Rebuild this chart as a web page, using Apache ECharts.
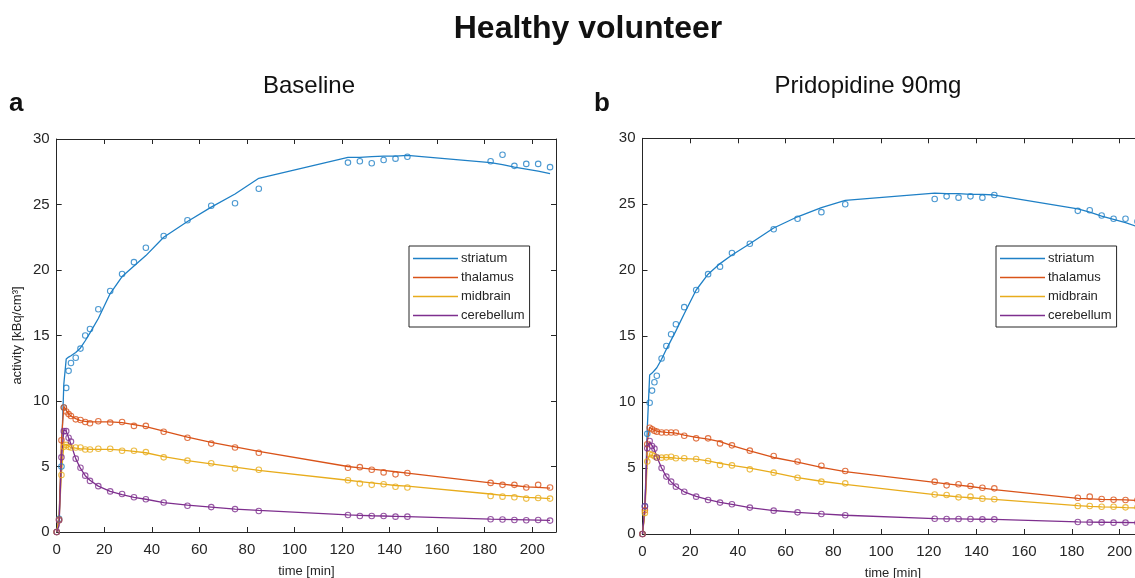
<!DOCTYPE html>
<html>
<head>
<meta charset="utf-8">
<script src="https://cdn.jsdelivr.net/npm/echarts@6/dist/echarts.min.js"></script>
<style>
html,body{margin:0;padding:0;background:#fff;}
#chart{width:1135px;height:578px;}
</style>
</head>
<body>
<div id="chart"></div>
<script>
// ---- data ----
const regions = ['striatum', 'thalamus', 'midbrain', 'cerebellum'];
const colors = ['#1f80c6', '#d95319', '#e8ac1c', '#7e2f8e'];
const times = [0, 1, 2, 3, 4, 5, 6, 8, 10, 12, 14, 17.5, 22.5, 27.5, 32.5, 37.5, 45, 55, 65, 75, 85,
  122.5, 127.5, 132.5, 137.5, 142.5, 147.5, 182.5, 187.5, 192.5, 197.5, 202.5, 207.5];
const xTicks = [0, 20, 40, 60, 80, 100, 120, 140, 160, 180, 200];
const yTicks = [0, 5, 10, 15, 20, 25, 30];

// Baseline (a) - measured points
const aStriatumPts = [0, 1.0, 5.0, 9.5, 11.0, 12.3, 12.9, 13.3, 14.0, 15.0, 15.5, 17.0, 18.4, 19.7, 20.6, 21.7, 22.6, 23.8, 24.9, 25.1, 26.2,
  28.2, 28.3, 28.15, 28.4, 28.5, 28.65, 28.3, 28.8, 27.95, 28.1, 28.1, 27.85];
const aThalamusPts = [0, 0.95, 7.0, 9.5, 9.2, 9.0, 8.85, 8.6, 8.55, 8.4, 8.3, 8.45, 8.35, 8.4, 8.1, 8.1, 7.65, 7.2, 6.75, 6.45, 6.05,
  4.9, 4.95, 4.75, 4.55, 4.4, 4.5, 3.75, 3.6, 3.6, 3.4, 3.6, 3.4];
const aMidbrainPts = [0, 0.9, 4.35, 6.5, 6.65, 6.5, 6.45, 6.45, 6.45, 6.3, 6.3, 6.35, 6.35, 6.2, 6.2, 6.1, 5.7, 5.45, 5.25, 4.85, 4.75,
  3.95, 3.7, 3.6, 3.65, 3.45, 3.4, 2.75, 2.7, 2.65, 2.55, 2.6, 2.55];
const aCerebellumPts = [0, 0.9, 5.7, 7.7, 7.7, 7.2, 6.9, 5.6, 4.9, 4.3, 3.9, 3.5, 3.1, 2.9, 2.65, 2.5, 2.25, 2.0, 1.9, 1.75, 1.6,
  1.3, 1.22, 1.22, 1.22, 1.17, 1.17, 0.97, 0.95, 0.92, 0.9, 0.92, 0.87];
// Baseline (a) - fitted curves
const aStriatumFit = [0, 1.0, 6.0, 11.3, 13.2, 13.35, 13.45, 13.7, 14.05, 14.6, 15.2, 16.3, 18.2, 19.5, 20.3, 21.1, 22.5, 23.7, 24.8, 25.8, 27.0,
  28.6, 28.6, 28.65, 28.7, 28.7, 28.75, 28.2, 28.05, 27.85, 27.7, 27.55, 27.35];
const aThalamusFit = [0, 1.0, 7.0, 9.6, 9.3, 9.0, 8.85, 8.65, 8.5, 8.45, 8.4, 8.4, 8.4, 8.35, 8.2, 8.05, 7.7, 7.25, 6.85, 6.5, 6.15,
  5.0, 4.9, 4.8, 4.7, 4.6, 4.5, 3.75, 3.65, 3.55, 3.45, 3.4, 3.35];
const aMidbrainFit = [0, 0.9, 4.5, 6.6, 6.7, 6.55, 6.45, 6.4, 6.35, 6.35, 6.3, 6.3, 6.3, 6.25, 6.15, 6.05, 5.75, 5.45, 5.2, 4.95, 4.7,
  3.95, 3.85, 3.75, 3.65, 3.55, 3.5, 2.9, 2.8, 2.75, 2.65, 2.6, 2.55];
const aCerebellumFit = [0, 0.5, 5.6, 7.8, 7.7, 7.2, 6.7, 5.6, 4.85, 4.3, 3.95, 3.5, 3.1, 2.85, 2.65, 2.5, 2.25, 2.05, 1.9, 1.75, 1.65,
  1.3, 1.27, 1.24, 1.22, 1.2, 1.18, 0.98, 0.96, 0.94, 0.92, 0.9, 0.88];

// Pridopidine 90mg (b) - measured points
const bStriatumPts = [0, 2.1, 7.6, 9.95, 10.87, 11.5, 12.0, 13.3, 14.25, 15.14, 15.9, 17.2, 18.5, 19.7, 20.27, 21.3, 22.0, 23.1, 23.9, 24.4, 25.0,
  25.4, 25.6, 25.5, 25.6, 25.5, 25.7, 24.5, 24.55, 24.15, 23.9, 23.9, 23.7];
const bThalamusPts = [0, 1.8, 6.8, 8.06, 7.94, 7.83, 7.76, 7.7, 7.7, 7.7, 7.7, 7.45, 7.25, 7.25, 6.87, 6.72, 6.32, 5.91, 5.5, 5.18, 4.78,
  3.97, 3.69, 3.77, 3.64, 3.51, 3.46, 2.75, 2.83, 2.65, 2.6, 2.58, 2.58];
const bMidbrainPts = [0, 1.6, 5.5, 6.07, 6.0, 5.9, 5.8, 5.79, 5.81, 5.86, 5.74, 5.74, 5.69, 5.53, 5.23, 5.2, 4.9, 4.65, 4.27, 3.97, 3.84,
  3.0, 2.96, 2.78, 2.83, 2.68, 2.63, 2.12, 2.12, 2.07, 2.07, 2.02, 2.02];
const bCerebellumPts = [0, 2.1, 6.5, 7.05, 6.67, 6.47, 5.8, 5.0, 4.35, 3.97, 3.59, 3.2, 2.83, 2.58, 2.38, 2.25, 2.0, 1.77, 1.64, 1.52, 1.42,
  1.16, 1.14, 1.14, 1.14, 1.11, 1.11, 0.91, 0.88, 0.88, 0.86, 0.86, 0.86];
// Pridopidine 90mg (b) - fitted curves
const bStriatumFit = [0, 2.0, 8.0, 12.05, 12.2, 12.4, 12.6, 13.25, 14.0, 14.7, 15.4, 16.7, 18.5, 19.7, 20.5, 21.15, 22.0, 23.2, 24.05, 24.75, 25.3,
  25.85, 25.8, 25.8, 25.75, 25.75, 25.7, 24.65, 24.4, 24.1, 23.85, 23.6, 23.3];
const bThalamusFit = [0, 1.8, 7.0, 8.1, 7.95, 7.85, 7.8, 7.75, 7.7, 7.68, 7.65, 7.5, 7.33, 7.2, 7.0, 6.7, 6.3, 5.8, 5.45, 5.05, 4.73,
  3.92, 3.8, 3.7, 3.6, 3.48, 3.36, 2.7, 2.66, 2.62, 2.6, 2.58, 2.55];
const bMidbrainFit = [0, 1.6, 5.5, 6.0, 5.95, 5.9, 5.85, 5.8, 5.8, 5.78, 5.75, 5.72, 5.68, 5.55, 5.35, 5.2, 5.0, 4.65, 4.27, 4.0, 3.77,
  2.98, 2.9, 2.82, 2.75, 2.68, 2.62, 2.15, 2.1, 2.06, 2.03, 2.0, 1.98];
const bCerebellumFit = [0, 2.0, 6.6, 7.0, 6.7, 6.4, 5.85, 5.0, 4.35, 3.95, 3.6, 3.2, 2.85, 2.6, 2.4, 2.25, 2.0, 1.78, 1.64, 1.52, 1.42,
  1.17, 1.15, 1.14, 1.13, 1.12, 1.11, 0.92, 0.9, 0.89, 0.88, 0.87, 0.86];

const aPts = [aStriatumPts, aThalamusPts, aMidbrainPts, aCerebellumPts];
const aFit = [aStriatumFit, aThalamusFit, aMidbrainFit, aCerebellumFit];
const bPts = [bStriatumPts, bThalamusPts, bMidbrainPts, bCerebellumPts];
const bFit = [bStriatumFit, bThalamusFit, bMidbrainFit, bCerebellumFit];

// ---- chart ----
const FONT = '"Liberation Sans", Arial, Helvetica, sans-serif';
const AX = '#262626';
const chart = echarts.init(document.getElementById('chart'), null, {renderer: 'canvas'});

const zip = arr => times.map((t, i) => [t, arr[i]]);

function xAx(gi, pos, show) {
  return {
    type: 'value', gridIndex: gi, position: pos, min: 0, max: 210, interval: 20,
    axisLine: {show: true, onZero: false, lineStyle: {color: AX, width: 1}},
    axisTick: {show: true, inside: true, length: 5, lineStyle: {color: AX}},
    axisLabel: {show: show, color: AX, fontSize: 15, fontFamily: FONT, margin: 10, showMaxLabel: false,
      formatter: v => xTicks.indexOf(v) >= 0 ? String(v) : ''},
    splitLine: {show: false},
    name: show ? 'time [min]' : '', nameLocation: 'middle', nameGap: 33,
    nameTextStyle: {color: AX, fontSize: 13, fontFamily: FONT}
  };
}
function yAx(gi, pos, show, name) {
  return {
    type: 'value', gridIndex: gi, position: pos, min: 0, max: 30, interval: 5,
    axisLine: {show: true, onZero: false, lineStyle: {color: AX, width: 1}},
    axisTick: {show: true, inside: true, length: 5, lineStyle: {color: AX}},
    axisLabel: {show: show, color: AX, fontSize: 15, fontFamily: FONT, margin: 7,
      formatter: v => yTicks.indexOf(v) >= 0 ? String(v) : ''},
    splitLine: {show: false},
    name: name || '', nameLocation: 'middle', nameGap: 33, nameRotate: 90,
    nameTextStyle: {color: AX, fontSize: 13, fontFamily: FONT}
  };
}

const series = [];
[[aFit, aPts], [bFit, bPts]].forEach(([fit, pts], gi) => {
  regions.forEach((r, k) => {
    series.push({
      name: r, type: 'line', xAxisIndex: gi * 2, yAxisIndex: gi * 2,
      data: zip(fit[k]), symbol: 'none', smooth: false,
      lineStyle: {color: colors[k], width: 1.3}, itemStyle: {color: colors[k]},
      z: 2, animation: false
    });
  });
});
[[aFit, aPts], [bFit, bPts]].forEach(([fit, pts], gi) => {
  regions.forEach((r, k) => {
    series.push({
      name: r, type: 'scatter', xAxisIndex: gi * 2, yAxisIndex: gi * 2,
      data: zip(pts[k]), symbol: 'circle', symbolSize: 5.5,
      itemStyle: {color: 'rgba(255,255,255,0)', borderColor: colors[k], borderWidth: 1.1},
      z: 3, animation: false
    });
  });
});

const legendBase = {
  orient: 'vertical', data: regions.map(r => ({name: r, icon: 'rect'})),
  itemWidth: 45, itemHeight: 1.4, itemGap: 4,
  padding: [5, 5, 4, 4], borderColor: AX, borderWidth: 1, borderRadius: 0,
  backgroundColor: '#fff', selectedMode: false,
  textStyle: {color: AX, fontSize: 13, fontFamily: FONT, lineHeight: 15, padding: [0, 0, 0, -2]}
};

chart.setOption({
  backgroundColor: '#fff',
  animation: false,
  grid: [
    {left: 56.7, top: 139, width: 499.3, height: 393, outerBoundsMode: 'none', containLabel: false},
    {left: 642.5, top: 138.3, width: 500.9, height: 395.7, outerBoundsMode: 'none', containLabel: false}
  ],
  xAxis: [xAx(0, 'bottom', true), xAx(0, 'top', false), xAx(1, 'bottom', true), xAx(1, 'top', false)],
  yAxis: [yAx(0, 'left', true, 'activity [kBq/cm³]'), yAx(0, 'right', false), yAx(1, 'left', true), yAx(1, 'right', false)],
  legend: [
    Object.assign({}, legendBase, {left: 409, top: 246}),
    Object.assign({}, legendBase, {left: 996, top: 246})
  ],
  graphic: [
    {type: 'text', x: 588, y: 29, style: {text: 'Healthy volunteer', font: 'bold 32px ' + FONT, fill: '#111', textAlign: 'center', textVerticalAlign: 'middle'}},
    {type: 'text', x: 309, y: 86, style: {text: 'Baseline', font: '24px ' + FONT, fill: '#111', textAlign: 'center', textVerticalAlign: 'middle'}},
    {type: 'text', x: 868, y: 86, style: {text: 'Pridopidine 90mg', font: '24px ' + FONT, fill: '#111', textAlign: 'center', textVerticalAlign: 'middle'}},
    {type: 'text', x: 9, y: 104, style: {text: 'a', font: 'bold 26px ' + FONT, fill: '#111', textVerticalAlign: 'middle'}},
    {type: 'text', x: 594, y: 104, style: {text: 'b', font: 'bold 26px ' + FONT, fill: '#111', textVerticalAlign: 'middle'}}
  ],
  series: series
});
</script>
</body>
</html>
